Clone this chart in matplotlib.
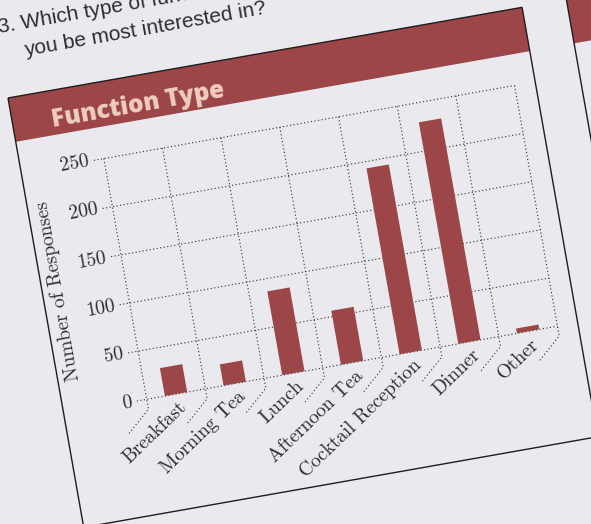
import matplotlib.pyplot as plt
import matplotlib.patches as patches
from matplotlib.transforms import Affine2D

# data
categories = ['Breakfast', 'Morning Tea', 'Lunch', 'Afternoon Tea',
              'Cocktail Reception', 'Dinner', 'Other']
responses = [29, 22, 87, 56, 193, 230, 5]
y_ticks = [0, 50, 100, 150, 200, 250]

page = '#e9e9ee'
red = '#9d4649'
ink = '#2e2e2e'
grid_ls = (0, (1, 2.2))

W, H = 591, 524
fig = plt.figure(figsize=(W / 100, H / 100), dpi=100)
fig.patch.set_facecolor(page)
ax = fig.add_axes([0, 0, 1, 1])
ax.set_autoscale_on(False)
ax.set_xlim(0, W)
ax.set_ylim(H, 0)
ax.axis('off')

# the printed page is photographed at a tilt
card = Affine2D().rotate_deg(-10).translate(8, 98) + ax.transData
px_u, px_v = 59.6, 0.978          # pixels per category / per response
chart = (Affine2D().scale(px_u, -px_v).rotate_deg(-10.1)
         .translate(146.7, 399.3) + ax.transData)
tilt = 10.1

# ============== cards
card_w, card_h, head_h = 522, 436, 44.5
for x0 in [0, 567]:
    ax.add_patch(patches.Rectangle((x0, 0), card_w, card_h, transform=card,
                                   fc=page, ec='none', zorder=1))
    ax.add_patch(patches.Rectangle((x0, 0), card_w, head_h, transform=card,
                                   fc=red, ec='none', zorder=2))
    ax.add_patch(patches.Rectangle((x0, 0), card_w, card_h, transform=card,
                                   fc='none', ec='#1e1e1e', lw=1.0, zorder=3))

ax.text(3, -65, '3. Which type of function would', transform=card,
        rotation=10, rotation_mode='anchor', ha='left', va='baseline',
        fontsize=15, family='Liberation Sans', color=ink)
ax.text(24, -38, 'you be most interested in?', transform=card,
        rotation=10, rotation_mode='anchor', ha='left', va='baseline',
        fontsize=15, family='Liberation Sans', color=ink)
ax.text(39, 36, 'Function Type', transform=card,
        rotation=10, rotation_mode='anchor', ha='left', va='baseline',
        fontsize=17.5, family='Open Sans', fontweight=800,
        color='#efcfbf', zorder=4)

# ============== grid
n = len(categories)
tick_px = 10
diag_u, diag_v = 25, 22
for v in y_ticks:
    ax.plot([-tick_px / px_u, n], [v, v], transform=chart, color=ink,
            lw=0.8, ls=grid_ls, zorder=5)
for k in range(n + 1):
    ax.plot([k, k, k - diag_u / px_u], [y_ticks[-1], -tick_px / px_v,
            -(tick_px + diag_v) / px_v], transform=chart, color=ink,
            lw=0.8, ls=grid_ls, zorder=5)

# ============== bars
ax.bar([i + 0.5 for i in range(n)], responses, width=0.38, transform=chart,
       color=red, zorder=6)

# ============== labels
for v in y_ticks:
    ax.text(-(tick_px + 5) / px_u, v, str(v), transform=chart,
            rotation=tilt, rotation_mode='anchor', ha='right', va='center',
            fontsize=14, family='cmr10', color=ink)
for i, name in enumerate(categories):
    ax.text(i + 0.5 + 6 / px_u, -12 / px_v, name, transform=chart,
            rotation=44, rotation_mode='anchor', ha='right',
            va='center', fontsize=14, family='cmr10', color=ink)
ax.text(-68.5 / px_u, 125, 'Number of Responses', transform=chart,
        rotation=90 + tilt, rotation_mode='anchor', ha='center', va='center',
        fontsize=14, family='cmr10', color=ink)

fig.savefig('out.png', dpi=100, facecolor=page)
